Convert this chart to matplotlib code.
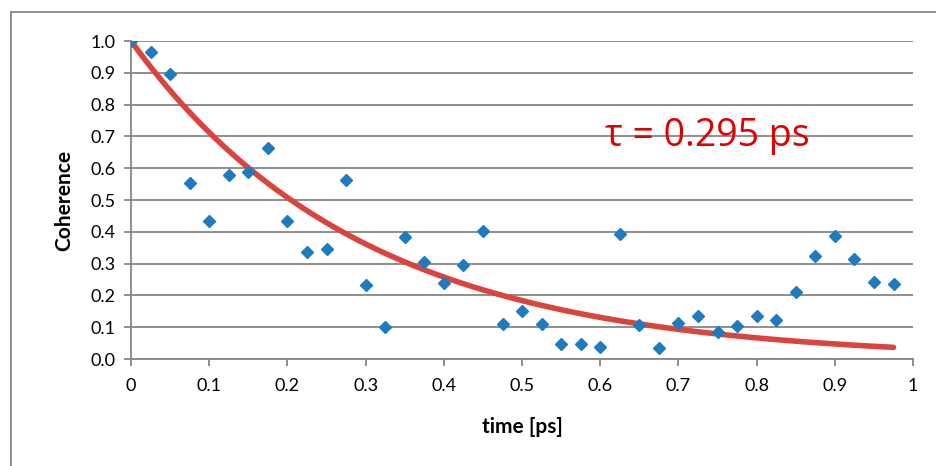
import matplotlib.pyplot as plt
import numpy as np

plt.rcParams['font.family'] = ['Lato', 'DejaVu Sans']

# Messpunkte
time_ps = [0.0, 0.025, 0.05, 0.075, 0.1, 0.125, 0.15, 0.175, 0.2, 0.225,
           0.25, 0.275, 0.3, 0.325, 0.35, 0.375, 0.4, 0.425, 0.45, 0.475,
           0.5, 0.525, 0.55, 0.575, 0.6, 0.625, 0.65, 0.675, 0.7, 0.725,
           0.75, 0.775, 0.8, 0.825, 0.85, 0.875, 0.9, 0.925, 0.95, 0.975]
coherence = [1.0, 0.965, 0.895, 0.555, 0.435, 0.58, 0.588, 0.663, 0.435, 0.335,
             0.345, 0.562, 0.232, 0.10, 0.383, 0.305, 0.238, 0.295, 0.403, 0.11,
             0.15, 0.11, 0.048, 0.048, 0.037, 0.392, 0.107, 0.035, 0.113, 0.135,
             0.085, 0.103, 0.136, 0.122, 0.21, 0.325, 0.386, 0.314, 0.241, 0.235]

# Fit exp(-t/tau)
tau = 0.295
xfit = np.linspace(0, 0.975, 200)
yfit = np.exp(-xfit / tau)

xticks = [0, 0.1, 0.2, 0.3, 0.4, 0.5, 0.6, 0.7, 0.8, 0.9, 1]
xticklabels = ['0', '0.1', '0.2', '0.3', '0.4', '0.5', '0.6', '0.7', '0.8', '0.9', '1']
yticks = np.arange(0, 1.01, 0.1)

gray = '#868686'

fig = plt.figure(figsize=(9.36, 4.66), dpi=100)
ax = fig.add_axes([0.14, 0.2296, 0.8355, 0.6824])

ax.plot(xfit, yfit, color='#d9443d', lw=4, solid_capstyle='round', zorder=2)
ax.plot(time_ps, coherence, 'D', color='#1f7bc0', ms=6, mec='#1f7bc0', zorder=3)

ax.text(0.606, 0.70, r'τ = 0.295 ps', color='#e00000', fontsize=27,
        fontfamily=['Open Sans', 'DejaVu Sans'], va='center')

ax.set_xlim(0, 1)
ax.set_ylim(0, 1.0)
ax.set_xticks(xticks)
ax.set_xticklabels(xticklabels)
ax.set_yticks(yticks)
ax.set_yticklabels([f'{v:.1f}' for v in yticks])
ax.grid(axis='y', color=gray, lw=1.3)
ax.set_axisbelow(True)
for s in ['top', 'right']:
    ax.spines[s].set_visible(False)
for s in ['left', 'bottom']:
    ax.spines[s].set_color(gray)
    ax.spines[s].set_linewidth(1.3)
ax.tick_params(axis='both', colors=gray, length=5, width=1.3, labelcolor='black',
               labelsize=13)
ax.tick_params(axis='x', pad=9)
ax.tick_params(axis='y', pad=6)

ax.set_xlabel('time [ps]', fontsize=15, fontweight='bold', labelpad=16)
ax.set_ylabel('Coherence', fontsize=15, fontweight='bold', labelpad=12)

# Rahmen links/oben
fig.add_artist(plt.Line2D([11/936, 11/936], [0, 1 - 12/466], color=gray, lw=1.3))
fig.add_artist(plt.Line2D([11/936, 1], [1 - 12/466, 1 - 12/466], color=gray, lw=1.3))

plt.savefig('out.png', dpi=100)
